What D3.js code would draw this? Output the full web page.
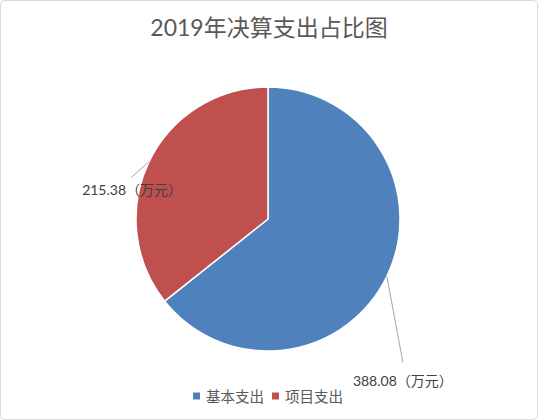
<!DOCTYPE html>
<html><head><meta charset="utf-8">
<script src="https://cdn.jsdelivr.net/npm/d3@7"></script>
<style>
html,body{margin:0;padding:0;background:#fff;}
svg{display:block;}
</style></head>
<body>
<script>
const title = "2019年决算支出占比图";
const categories = ["基本支出", "项目支出"];
const values = [388.08, 215.38];
const colors = ["#4F81BD", "#C0504D"];
const unit = "（万元）";

const W = 538, H = 420;
const cx = 268, cy = 219, R = 132;
const font = "Lato, 'Noto Sans CJK SC', sans-serif";

const svg = d3.select("body").append("svg").attr("width", W).attr("height", H);
svg.append("rect").attr("x", 0.5).attr("y", 0.5).attr("width", W - 1).attr("height", H - 1)
  .attr("rx", 4).attr("fill", "#fff").attr("stroke", "#d9d9d9");

svg.append("text").attr("x", 269).attr("y", 36).attr("text-anchor", "middle")
  .attr("font-family", font).attr("font-size", 23).attr("fill", "#595959").text(title);

const pie = d3.pie().sort(null).value(d => d)(values);
const arc = d3.arc().innerRadius(0).outerRadius(R);
const g = svg.append("g").attr("transform", `translate(${cx},${cy})`);
g.selectAll("path").data(pie).join("path")
  .attr("d", arc).attr("fill", (d, i) => colors[i])
  .attr("stroke", "#fff").attr("stroke-width", 1.5);

// label layout offsets (from arc mid-point on rim)
const labelLayout = [
  {dx: 16, dy: 86, tx: -50, ty: 24},
  {dx: -18, dy: 16, tx: -49, ty: 17}
];
pie.forEach((d, i) => {
  const a = (d.startAngle + d.endAngle) / 2;
  const px = Math.sin(a) * R, py = -Math.cos(a) * R;
  const L = labelLayout[i];
  g.append("line").attr("x1", px).attr("y1", py).attr("x2", px + L.dx).attr("y2", py + L.dy)
    .attr("stroke", "#a6a6a6").attr("stroke-width", 1);
  g.append("text").attr("x", px + L.dx + L.tx).attr("y", py + L.dy + L.ty)
    .attr("font-family", font).attr("font-size", 14)
    .attr("fill", "#404040").text(d3.format(".2f")(values[i]) + unit);
});

// legend
const leg = svg.append("g").attr("transform", "translate(193,396)");
let x = 0;
categories.forEach((c, i) => {
  leg.append("rect").attr("x", x).attr("y", -3.5).attr("width", 7).attr("height", 7).attr("fill", colors[i]);
  const t = leg.append("text").attr("x", x + 13).attr("y", 5.5).attr("font-family", font)
    .attr("font-size", 14.5).attr("fill", "#595959").text(c);
  x += 13 + t.node().getComputedTextLength() + 8;
});
</script>
</body></html>
